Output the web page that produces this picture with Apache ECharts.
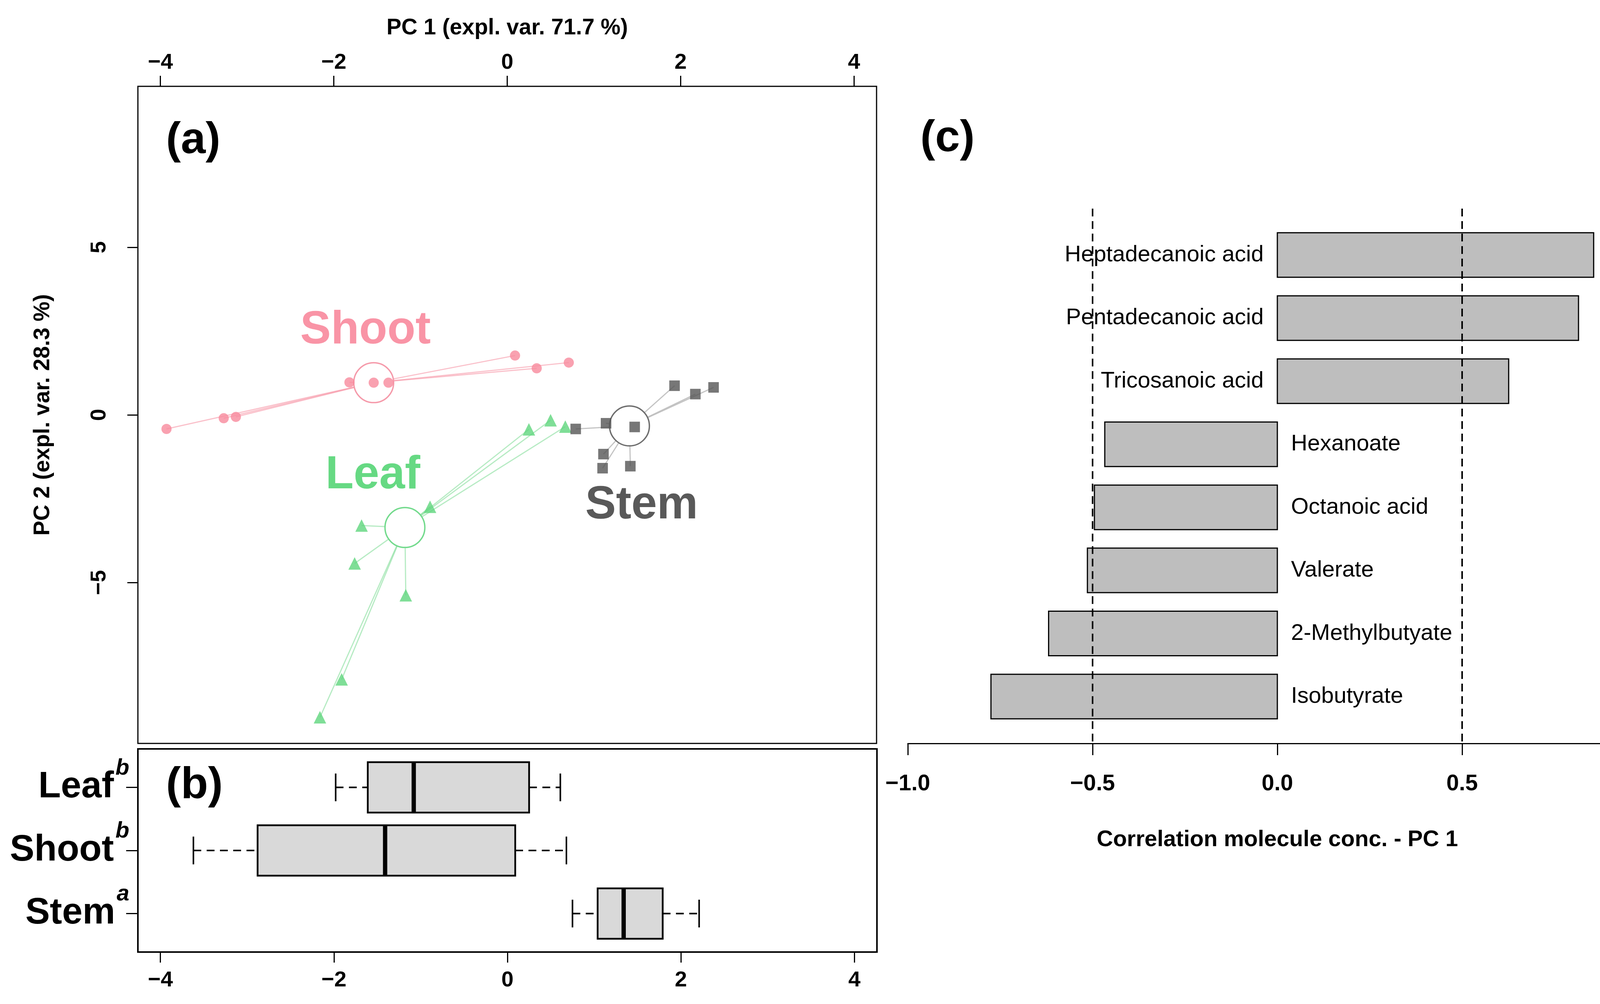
<!DOCTYPE html>
<html><head><meta charset="utf-8">
<script src="https://cdn.jsdelivr.net/npm/echarts@6/dist/echarts.min.js"></script>
<style>html,body{margin:0;padding:0;background:#fff}#c{width:4282px;height:2570px}</style>
</head><body><div id="c"></div>
<script>
// ---------------- data ----------------
const groups = ['Shoot', 'Leaf', 'Stem'];
const shootPC1 = [-3.93, -3.27, -3.13, -1.82, -1.54, -1.37, 0.09, 0.34, 0.71];
const shootPC2 = [-0.42, -0.10, -0.06, 0.97, 0.96, 0.96, 1.77, 1.39, 1.56];
const leafPC1 = [-2.16, -1.91, -1.76, -1.68, -1.17, -0.89, 0.25, 0.50, 0.67];
const leafPC2 = [-9.02, -7.89, -4.43, -3.30, -5.38, -2.74, -0.43, -0.16, -0.35];
const stemPC1 = [0.79, 1.14, 1.11, 1.10, 1.42, 1.47, 1.93, 2.17, 2.38];
const stemPC2 = [-0.42, -0.25, -1.17, -1.59, -1.53, -0.36, 0.87, 0.62, 0.82];
const centroidPC1 = [-1.54, -1.18, 1.41];
const centroidPC2 = [0.96, -3.36, -0.33];
const pc1Ticks = [-4, -2, 0, 2, 4];
const pc2Ticks = [-5, 0, 5];

const boxCats = ['Leaf', 'Shoot', 'Stem'];
const boxSup = ['b', 'b', 'a'];
// [min, Q1, median, Q3, max] of PC 1 scores
const leafBox = [-1.98, -1.61, -1.08, 0.25, 0.61];
const shootBox = [-3.62, -2.88, -1.41, 0.09, 0.68];
const stemBox = [0.75, 1.04, 1.34, 1.79, 2.21];

const molecules = ['Heptadecanoic acid', 'Pentadecanoic acid', 'Tricosanoic acid', 'Hexanoate',
  'Octanoic acid', 'Valerate', '2-Methylbutyate', 'Isobutyrate'];
const corrValues = [0.856, 0.815, 0.626, -0.467, -0.495, -0.514, -0.619, -0.775];
const corrTicks = [-1, -0.5, 0, 0.5, 1];
const thresholds = [-0.5, 0.5];

// ---------------- styles ----------------
const FONT = "'Liberation Sans', Arial, sans-serif";
const pointColors = ['#F7899C', '#5FD67D', '#555555'];
const circleColors = ['#F59AAA', '#72DA8C', '#6E6E6E'];
const textColors = ['#F994A6', '#66D983', '#595959'];
const lineColors = ['rgba(246,150,166,0.6)', 'rgba(110,215,135,0.5)', 'rgba(190,190,190,0.9)'];
const symbols = ['circle', 'triangle', 'rect'];
const symbolSizes = [26, 32, 27];
const labelShift = [[-21, -133], [-82, -133], [31, 204]];
const circleRadius = 51;
const groupX = [shootPC1, leafPC1, stemPC1];
const groupY = [shootPC2, leafPC2, stemPC2];
const boxStats = [leafBox, shootBox, stemBox];

const minus = v => (v < 0 ? '\u2212' + Math.abs(v) : String(v));

const series = [];
// star lines centroid -> points
groups.forEach((g, gi) => {
  series.push({
    type: 'custom', xAxisIndex: 0, yAxisIndex: 0, silent: true, z: 1,
    data: groupX[gi].map((x, i) => [x, groupY[gi][i]]),
    encode: { x: 0, y: 1 },
    renderItem: (params, api) => {
      const c = api.coord([centroidPC1[gi], centroidPC2[gi]]);
      const p = api.coord([api.value(0), api.value(1)]);
      return { type: 'line', shape: { x1: c[0], y1: c[1], x2: p[0], y2: p[1] },
        style: { stroke: lineColors[gi], lineWidth: 3 } };
    }
  });
});
// centroid circles (white filled, hiding the line ends) and group labels
series.push({
  type: 'custom', xAxisIndex: 0, yAxisIndex: 0, silent: true, z: 2,
  data: groups.map((g, gi) => [centroidPC1[gi], centroidPC2[gi]]),
  encode: { x: 0, y: 1 },
  renderItem: (params, api) => {
    const gi = params.dataIndex;
    const c = api.coord([api.value(0), api.value(1)]);
    return { type: 'group', children: [
      { type: 'circle', shape: { cx: c[0], cy: c[1], r: circleRadius },
        style: { fill: '#ffffff', stroke: circleColors[gi], lineWidth: 3.5 } },
      { type: 'text', style: { text: groups[gi], x: c[0] + labelShift[gi][0], y: c[1] + labelShift[gi][1],
        align: 'center', verticalAlign: 'middle', font: 'bold 118px ' + FONT, fill: textColors[gi] } }
    ] };
  }
});
// points
groups.forEach((g, gi) => {
  series.push({
    type: 'scatter', xAxisIndex: 0, yAxisIndex: 0, silent: true, z: 3,
    data: groupX[gi].map((x, i) => [x, groupY[gi][i]]),
    symbol: symbols[gi], symbolSize: symbolSizes[gi],
    itemStyle: { color: pointColors[gi] }
  });
});
// boxplots (panel b)
series.push({
  type: 'custom', xAxisIndex: 1, yAxisIndex: 1, silent: true,
  data: boxCats.map((c, i) => [i + 1].concat(boxStats[i])),
  encode: { x: [1, 2, 3, 4, 5], y: 0 },
  renderItem: (params, api) => {
    const y = api.value(0);
    const v = [1, 2, 3, 4, 5].map(k => api.value(k));
    const p = v.map(x => api.coord([x, y]));
    const cy = p[2][1];
    const hb = api.size([0, 0.8], [v[2], y])[1] / 2;
    const hs = api.size([0, 0.44], [v[2], y])[1] / 2;
    const dash = { stroke: '#000', lineWidth: 4, lineDash: [20, 14] };
    const solid = { stroke: '#000', lineWidth: 4 };
    return { type: 'group', children: [
      { type: 'line', shape: { x1: p[0][0], y1: cy, x2: p[1][0], y2: cy }, style: dash },
      { type: 'line', shape: { x1: p[3][0], y1: cy, x2: p[4][0], y2: cy }, style: dash },
      { type: 'line', shape: { x1: p[0][0], y1: cy - hs, x2: p[0][0], y2: cy + hs }, style: solid },
      { type: 'line', shape: { x1: p[4][0], y1: cy - hs, x2: p[4][0], y2: cy + hs }, style: solid },
      { type: 'rect', shape: { x: p[1][0], y: cy - hb, width: p[3][0] - p[1][0], height: 2 * hb },
        style: { fill: '#D9D9D9', stroke: '#000', lineWidth: 4.5 } },
      { type: 'line', shape: { x1: p[2][0], y1: cy - hb, x2: p[2][0], y2: cy + hb },
        style: { stroke: '#000', lineWidth: 11 } }
    ] };
  }
});
// correlation bars (panel c)
series.push({
  type: 'custom', xAxisIndex: 2, yAxisIndex: 2, silent: true, z: 2,
  data: corrValues.map((v, i) => [v, i]),
  encode: { x: 0, y: 1 },
  renderItem: (params, api) => {
    const v = api.value(0), i = api.value(1);
    const p0 = api.coord([0, i]), p1 = api.coord([v, i]);
    const h = api.size([0, 0.706], [0, i])[1];
    return { type: 'group', children: [
      { type: 'rect', shape: { x: Math.min(p0[0], p1[0]), y: p0[1] - h / 2, width: Math.abs(p1[0] - p0[0]), height: h },
        style: { fill: '#BEBEBE', stroke: '#000', lineWidth: 3 } },
      { type: 'text', style: { text: molecules[params.dataIndex], x: v > 0 ? p0[0] - 35 : p0[0] + 35, y: p0[1],
        align: v > 0 ? 'right' : 'left', verticalAlign: 'middle', font: '58px ' + FONT, fill: '#000' } }
    ] };
  }
});
// dashed threshold lines
series.push({
  type: 'custom', xAxisIndex: 2, yAxisIndex: 2, silent: true, z: 3,
  data: thresholds.map(t => [t, 0]),
  encode: { x: 0, y: 1 },
  renderItem: (params, api) => {
    const x = api.coord([api.value(0), 0])[0];
    const cs = params.coordSys;
    return { type: 'line', shape: { x1: x, y1: cs.y, x2: x, y2: cs.y + cs.height },
      style: { stroke: '#000', lineWidth: 4, lineDash: [20, 12] } };
  }
});

const tickStyle = { lineStyle: { color: '#000', width: 3 } };
const option = {
  animation: false,
  backgroundColor: '#ffffff',
  grid: [
    { left: 353, top: 221, width: 1891, height: 1682, show: true, borderColor: '#000', borderWidth: 3, backgroundColor: 'transparent' },
    { left: 353, top: 1917, width: 1892, height: 520, show: true, borderColor: '#000', borderWidth: 4, backgroundColor: 'transparent' },
    { left: 2324, top: 534, width: 1892, height: 1369, show: false }
  ],
  xAxis: [
    { gridIndex: 0, type: 'value', position: 'top', min: -4.26, max: 4.26,
      name: 'PC 1 (expl. var. 71.7 %)', nameLocation: 'middle', nameGap: 120,
      nameTextStyle: { fontFamily: FONT, fontSize: 57, fontWeight: 'bold', color: '#000' },
      axisLine: { show: false, onZero: false },
      axisTick: Object.assign({ show: true, length: 27, customValues: pc1Ticks }, tickStyle),
      axisLabel: { customValues: pc1Ticks, formatter: minus, margin: 32, fontFamily: FONT, fontSize: 56, fontWeight: 'bold', color: '#000' },
      splitLine: { show: false } },
    { gridIndex: 1, type: 'value', position: 'bottom', min: -4.26, max: 4.26,
      axisLine: { show: false, onZero: false },
      axisTick: Object.assign({ show: true, length: 27, customValues: pc1Ticks }, tickStyle),
      axisLabel: { customValues: pc1Ticks, formatter: minus, margin: 45, fontFamily: FONT, fontSize: 56, fontWeight: 'bold', color: '#000' },
      splitLine: { show: false } },
    { gridIndex: 2, type: 'value', position: 'bottom', min: -1, max: 1, interval: 0.5,
      name: 'Correlation molecule conc. - PC 1', nameLocation: 'middle', nameGap: 218,
      nameTextStyle: { fontFamily: FONT, fontSize: 58, fontWeight: 'bold', color: '#000' },
      axisLine: { show: true, onZero: false, lineStyle: { color: '#000', width: 3 } },
      axisTick: Object.assign({ show: true, length: 30, customValues: corrTicks }, tickStyle),
      axisLabel: { customValues: corrTicks, formatter: v => (v < 0 ? '\u2212' : '') + Math.abs(v).toFixed(1),
        margin: 75, fontFamily: FONT, fontSize: 58, fontWeight: 'bold', color: '#000' },
      splitLine: { show: false } }
  ],
  yAxis: [
    { gridIndex: 0, type: 'value', min: -9.8, max: 9.8,
      name: 'PC 2 (expl. var. 28.3 %)', nameLocation: 'middle', nameGap: 214,
      nameTextStyle: { fontFamily: FONT, fontSize: 57, fontWeight: 'bold', color: '#000' },
      axisLine: { show: false, onZero: false },
      axisTick: Object.assign({ show: true, length: 27, customValues: pc2Ticks }, tickStyle),
      axisLabel: { customValues: pc2Ticks, formatter: minus, rotate: 90, margin: 70, fontFamily: FONT, fontSize: 56, fontWeight: 'bold', color: '#000' },
      splitLine: { show: false } },
    { gridIndex: 1, type: 'value', min: 0.39, max: 3.61, inverse: true,
      axisLine: { show: false, onZero: false },
      axisTick: Object.assign({ show: true, length: 30, customValues: [1, 2, 3] }, tickStyle),
      axisLabel: { customValues: [1, 2, 3], margin: 22,
        formatter: v => '{n|' + boxCats[v - 1] + '}{s|' + boxSup[v - 1] + '}',
        rich: {
          n: { fontFamily: FONT, fontSize: 94, fontWeight: 'bold', color: '#000', lineHeight: 156, verticalAlign: 'middle' },
          s: { fontFamily: FONT, fontSize: 58, fontWeight: 'bold', fontStyle: 'italic', color: '#000', lineHeight: 60, verticalAlign: 'top', padding: [0, 0, 0, 4] }
        } },
      splitLine: { show: false } },
    { gridIndex: 2, type: 'value', min: -0.7358, max: 7.743, inverse: true, show: false,
      axisLine: { onZero: false }, splitLine: { show: false } }
  ],
  graphic: [
    { type: 'text', left: 425, top: 304, style: { text: '(a)', font: 'bold 114px ' + FONT, fill: '#000' } },
    { type: 'text', left: 425, top: 1955, style: { text: '(b)', font: 'bold 114px ' + FONT, fill: '#000' } },
    { type: 'text', left: 2356, top: 299, style: { text: '(c)', font: 'bold 114px ' + FONT, fill: '#000' } }
  ],
  series: series
};
const chart = echarts.init(document.getElementById('c'));
chart.setOption(option);
</script></body></html>
